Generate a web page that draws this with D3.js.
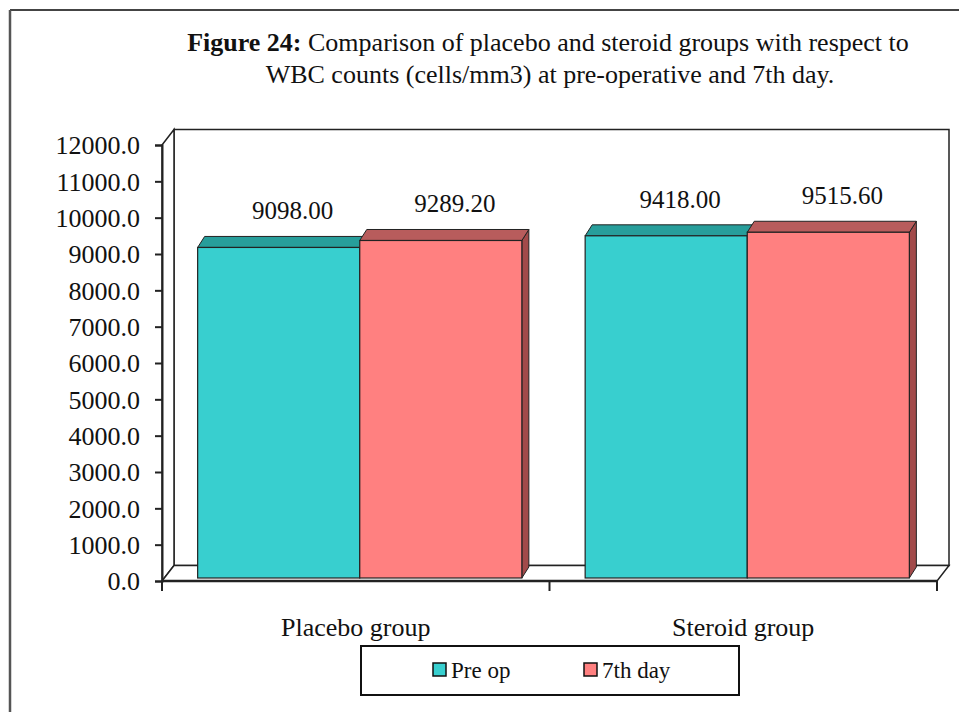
<!DOCTYPE html>
<html>
<head>
<meta charset="utf-8">
<script src="https://cdn.jsdelivr.net/npm/d3@7"></script>
<style>
  body { margin: 0; background: #fff; }
  svg text { font-family: "Liberation Serif", "Times New Roman", serif; fill: #111; }
</style>
</head>
<body>
<svg id="chart" width="959" height="712"></svg>
<script>
// data
const categories = ["Placebo group", "Steroid group"];
const seriesNames = ["Pre op", "7th day"];
const preOp = [9098.00, 9418.00];
const day7 = [9289.20, 9515.60];
const yTicks = [0, 1000, 2000, 3000, 4000, 5000, 6000, 7000, 8000, 9000, 10000, 11000, 12000];

const frontColor = ["#38cfcf", "#ff8080"];
const topColor = ["#279e9b", "#b85c5c"];
const sideColor = ["#1f7f7d", "#a24a4a"];

const svg = d3.select("#chart");

// outer frame (left and top edges only are visible)
svg.append("line").attr("x1", 10).attr("y1", 10).attr("x2", 959).attr("y2", 10)
    .attr("stroke", "#444").attr("stroke-width", 2);
svg.append("line").attr("x1", 10).attr("y1", 10).attr("x2", 10).attr("y2", 712)
    .attr("stroke", "#555").attr("stroke-width", 2.5);

// title
const title = svg.append("text").attr("text-anchor", "middle").style("font-size", "26px");
title.append("tspan").attr("x", 548).attr("y", 51)
    .style("font-weight", "bold").text("Figure 24:");
title.append("tspan").text(" Comparison of placebo and steroid groups with respect to");
svg.append("text").attr("text-anchor", "middle").attr("x", 550).attr("y", 83)
    .style("font-size", "26px")
    .text("WBC counts (cells/mm3) at pre-operative and 7th day.");

// plot area and 3d depth
const plotLeft = 162, plotRight = 937, plotBottom = 581, plotTop = 145;
const depthX = 12, depthY = -15.5;

const y = d3.scaleLinear().domain([0, 12000]).range([plotBottom, plotTop]);
const x0 = d3.scaleBand().domain(categories).range([plotLeft, plotRight]);
const gap = x0.bandwidth() * 0.092;
const x1 = d3.scaleBand().domain(seriesNames).range([gap, x0.bandwidth() - gap + 8]);

// walls
const wallStroke = "#222";
svg.append("polygon")
    .attr("points", [[plotLeft + depthX, plotTop + depthY], [plotRight + depthX, plotTop + depthY],
        [plotRight + depthX, plotBottom + depthY], [plotLeft + depthX, plotBottom + depthY]].join(" "))
    .attr("fill", "#fff").attr("stroke", wallStroke).attr("stroke-width", 1.5);
svg.append("polygon")
    .attr("points", [[plotLeft, plotTop], [plotLeft + depthX, plotTop + depthY],
        [plotLeft + depthX, plotBottom + depthY], [plotLeft, plotBottom]].join(" "))
    .attr("fill", "#fff").attr("stroke", wallStroke).attr("stroke-width", 1.5);
svg.append("polygon")
    .attr("points", [[plotLeft, plotBottom], [plotLeft + depthX, plotBottom + depthY],
        [plotRight + depthX, plotBottom + depthY], [plotRight, plotBottom]].join(" "))
    .attr("fill", "#fff").attr("stroke", wallStroke).attr("stroke-width", 1.5);

// y axis
const yAxis = d3.axisLeft(y).tickValues(yTicks).tickSize(7).tickPadding(15)
    .tickFormat(d3.format(".1f"));
const gy = svg.append("g").attr("transform", `translate(${plotLeft},0)`).call(yAxis);
gy.select(".domain").attr("stroke", "#222").attr("stroke-width", 2);
gy.selectAll(".tick line").attr("stroke", "#222").attr("stroke-width", 2);
gy.selectAll(".tick text").style("font-size", "26px").attr("fill", "#111")
    .style("font-family", "'Liberation Serif', serif").attr("dy", "0.34em");

// category axis ticks
const catEdges = [plotLeft, ...categories.slice(1).map(c => x0(c)), plotRight];
svg.selectAll(".cat-tick").data(catEdges).enter().append("line")
    .attr("x1", d => d).attr("x2", d => d).attr("y1", plotBottom).attr("y2", plotBottom + 10)
    .attr("stroke", "#222").attr("stroke-width", 2);

svg.selectAll(".cat-label").data(categories).enter().append("text")
    .attr("x", d => x0(d) + x0.bandwidth() / 2)
    .attr("y", 636)
    .attr("text-anchor", "middle")
    .style("font-size", "26px")
    .text(d => d);

// bars
const barShift = 3;
const bw = x1.bandwidth();
const rows = [];
categories.forEach((c, i) => {
    [preOp[i], day7[i]].forEach((v, s) => rows.push({ cat: c, s: s, value: v }));
});

const bdx = 7, bdy = -11;
const bars = svg.selectAll(".bar").data(rows).enter().append("g").attr("class", "bar");

bars.each(function(d) {
    const g = d3.select(this);
    const bx = x0(d.cat) + x1(seriesNames[d.s]);
    const by = y(d.value) - barShift;
    const base = plotBottom - barShift;
    // right side face
    g.append("polygon")
        .attr("points", [[bx + bw, by], [bx + bw + bdx, by + bdy],
            [bx + bw + bdx, base + bdy], [bx + bw, base]].join(" "))
        .attr("fill", sideColor[d.s]).attr("stroke", "#222").attr("stroke-width", 1);
    // top face
    g.append("polygon")
        .attr("points", [[bx, by], [bx + bdx, by + bdy],
            [bx + bw + bdx, by + bdy], [bx + bw, by]].join(" "))
        .attr("fill", topColor[d.s]).attr("stroke", "#222").attr("stroke-width", 1);
    // front face
    g.append("rect")
        .attr("x", bx).attr("y", by).attr("width", bw).attr("height", base - by)
        .attr("fill", frontColor[d.s]).attr("stroke", "#222").attr("stroke-width", 1.2);
    // value label
    g.append("text")
        .attr("x", bx + bw / 2 + 14)
        .attr("y", by + bdy - 17)
        .attr("text-anchor", "middle")
        .style("font-size", "25px")
        .text(d3.format(".2f")(d.value));
});

// floor front edge drawn over the bar bottoms
svg.append("line").attr("x1", plotLeft).attr("x2", plotRight).attr("y1", plotBottom).attr("y2", plotBottom)
    .attr("stroke", "#222").attr("stroke-width", 2.5);

// legend
const legend = svg.append("g");
legend.append("rect").attr("x", 361).attr("y", 646).attr("width", 378).attr("height", 49)
    .attr("fill", "#fff").attr("stroke", "#111").attr("stroke-width", 2);
const legendX = [433, 584];
seriesNames.forEach((name, i) => {
    legend.append("rect").attr("x", legendX[i]).attr("y", 663).attr("width", 13).attr("height", 13)
        .attr("fill", frontColor[i]).attr("stroke", "#111").attr("stroke-width", 1.5);
    legend.append("text").attr("x", legendX[i] + 18).attr("y", 678)
        .style("font-size", "23px").text(name);
});
</script>
</body>
</html>
